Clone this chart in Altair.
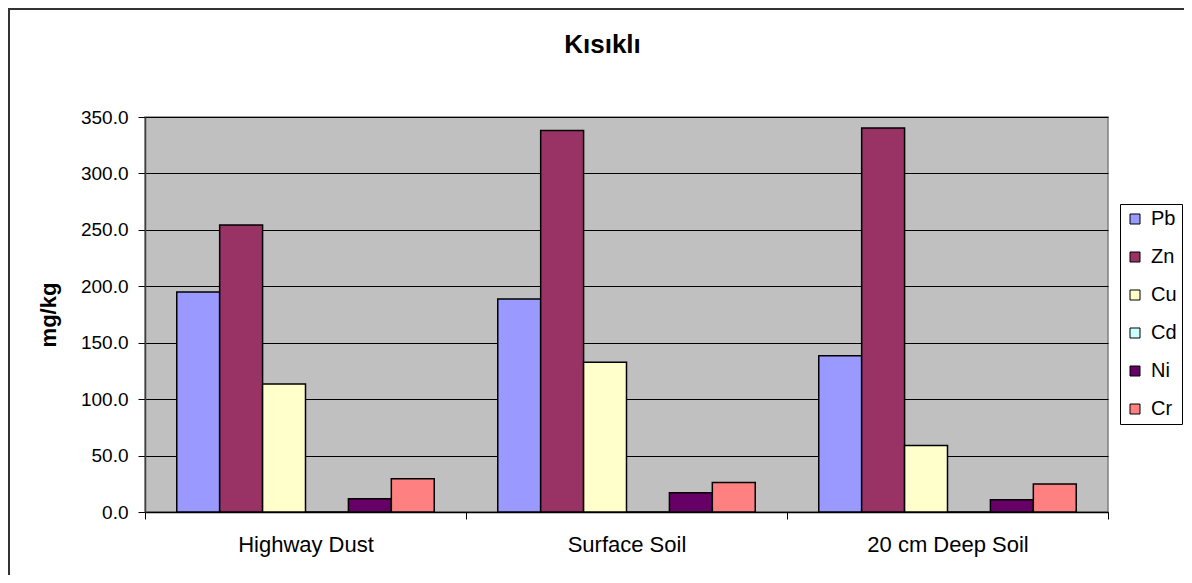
import altair as alt
import pandas as pd

categories = ["Highway Dust", "Surface Soil", "20 cm Deep Soil"]
metals = ["Pb", "Zn", "Cu", "Cd", "Ni", "Cr"]
pb = [195.0, 188.7, 138.5]
zn = [254.3, 338.1, 340.2]
cu = [113.4, 132.6, 59.0]
cd = [0.0, 0.0, 0.0]
ni = [11.8, 17.1, 10.9]
cr = [29.5, 26.2, 24.8]
colors = ["#9999FF", "#993366", "#FFFFCC", "#CCFFFF", "#660066", "#FF8080"]
y_ticks = [0, 50, 100, 150, 200, 250, 300, 350]

series = {"Pb": pb, "Zn": zn, "Cu": cu, "Cd": cd, "Ni": ni, "Cr": cr}
rows = []
for m in metals:
    for c, v in zip(categories, series[m]):
        rows.append({"Site": c, "Metal": m, "Value": v})
df = pd.DataFrame(rows)

FONT = "Liberation Sans"
W, H = 963, 395

border = alt.Chart(pd.DataFrame({"a": [0]})).mark_rect(
    fillOpacity=0, stroke="#333333", strokeWidth=2
).encode(
    x=alt.value(-136), x2=alt.value(1400), y=alt.value(-108), y2=alt.value(800)
)

bars = alt.Chart(df).mark_bar(stroke="black", strokeWidth=1.5).encode(
    x=alt.X(
        "Site:N",
        sort=categories,
        scale=alt.Scale(paddingInner=0, paddingOuter=0),
        axis=alt.Axis(
            title=None, labelAngle=0, tickBand="extent", grid=False,
            domainColor="black", domainWidth=1.5, tickColor="black", tickSize=7,
            tickWidth=1, labelFont=FONT, labelFontSize=22, labelColor="black",
            labelPadding=15,
        ),
    ),
    xOffset=alt.XOffset(
        "Metal:N", sort=metals, scale=alt.Scale(paddingInner=0, paddingOuter=0.74)
    ),
    y=alt.Y(
        "Value:Q",
        scale=alt.Scale(domain=[0, 350], nice=False),
        axis=alt.Axis(
            title="mg/kg", values=y_ticks, format=".1f", grid=True,
            gridColor="black", gridWidth=1, domainColor="#404040", domainWidth=1.5,
            tickColor="black", tickSize=7, tickWidth=1, labelFont=FONT,
            labelFontSize=19, labelColor="black", labelPadding=10,
            titleFont=FONT, titleFontSize=22, titleFontWeight="bold",
            titleColor="black", titleX=-97, titleY=H / 2, titleAngle=-90,
            titleAlign="center", titleBaseline="middle",
        ),
    ),
    color=alt.Color(
        "Metal:N",
        sort=metals,
        scale=alt.Scale(domain=metals, range=colors),
        legend=alt.Legend(
            title=None, orient="none", legendX=975, legendY=87,
            direction="vertical", fillColor="white", strokeColor="black",
            padding=5, rowPadding=18, symbolType="square", symbolSize=100,
            symbolStrokeColor="black", symbolStrokeWidth=1, labelFont=FONT,
            labelFontSize=20, labelColor="black", labelOffset=6,
        ),
    ),
)

chart = alt.layer(border, bars).properties(
    width=W,
    height=H,
    title=alt.TitleParams(
        "Kısıklı", font=FONT, fontSize=26, fontWeight="bold", color="black",
        anchor="middle", dx=-24, offset=0, dy=50,
    ),
    autosize=alt.AutoSizeParams(type="none"),
    padding={"left": 137, "top": 109, "right": 76, "bottom": 63},
    background="white",
).configure_view(
    fill="#C0C0C0", stroke="#808080", strokeWidth=1.5
)

chart.save("out.html", embed_options={"renderer": "svg", "actions": False})
